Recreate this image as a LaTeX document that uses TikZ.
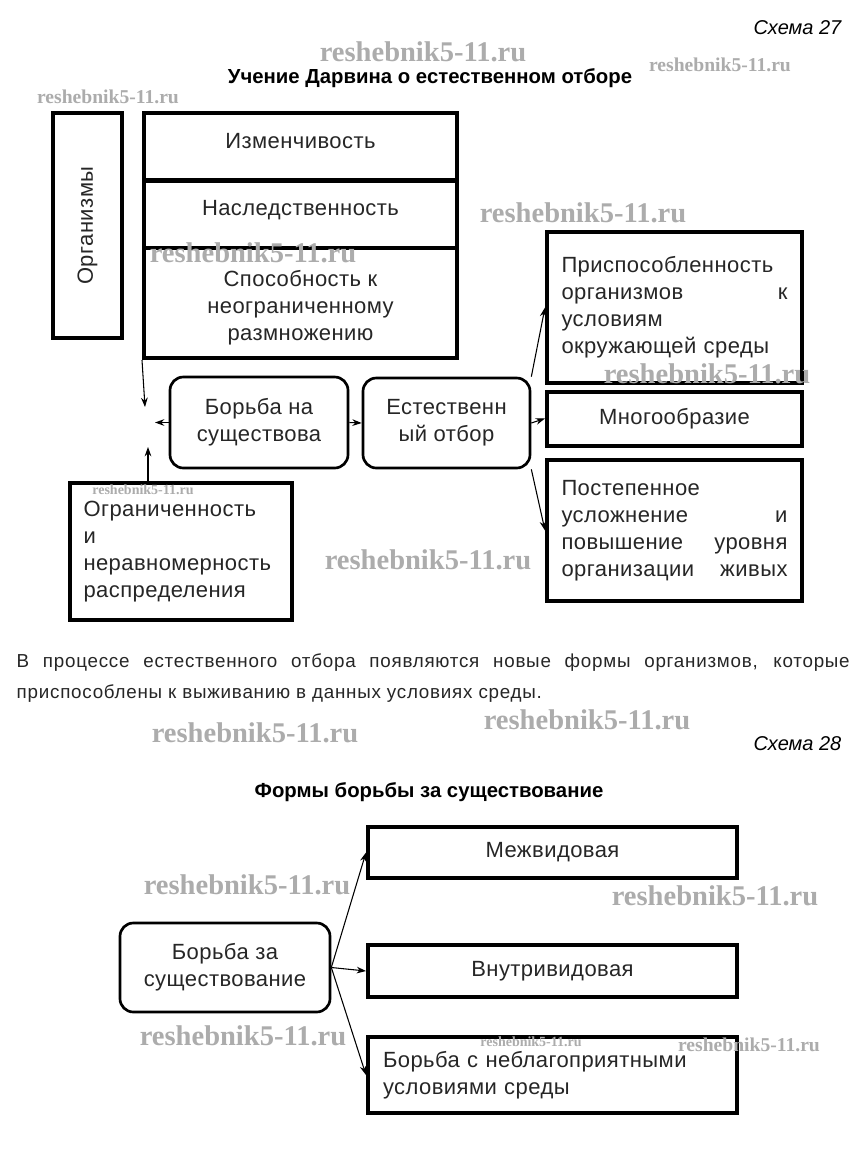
\documentclass[tikz,border=0pt]{standalone}
\usepackage{fontspec}
\setmainfont{Liberation Sans}
\newfontfamily\boxfont[LetterSpace=2]{Liberation Sans}
\newfontfamily\parafont[LetterSpace=4]{Liberation Sans}
\newfontfamily\wmfont{Liberation Serif}
\usetikzlibrary{arrows.meta}

\newcommand*{\pxu}{0.75pt}

\begin{document}
\begin{tikzpicture}
[
	x=\pxu,y=-\pxu,
	>={Stealth[length=7pt,width=5pt]},
	box/.style={draw,line width=3pt,inner sep=0pt,text=black!85,
		font=\boxfont\fontsize{16.5}{20.25}\selectfont},
	jbox/.style={box,align=left},
	rbox/.style={box,line width=2pt,rounded corners=10pt,align=center},
	conn/.style={->,line width=0.8pt},
	heading/.style={font=\bfseries\fontsize{15.25}{18}\selectfont},
	scheme/.style={anchor=east,font=\itshape\fontsize{15}{18}\selectfont},
	wm/.style={text=gray!65,font=\wmfont\bfseries\fontsize{21.4}{21.4}\selectfont},
	wmsm/.style={wm,font=\wmfont\bfseries\fontsize{14.7}{14.7}\selectfont},
	wmxs/.style={wm,font=\wmfont\bfseries\fontsize{10.5}{10.5}\selectfont}
]

	\useasboundingbox[fill=white] (0,0) rectangle (860,1154);

	% scheme 27
	\node[scheme] (s27) at (846,28) {Схема 27};
	\node[heading] (t27) at (430,78) {Учение Дарвина о естественном отборе};

	\node[box,rotate=90,minimum width=225*\pxu,minimum height=69*\pxu] (org) at (87.5,225.5) {Организмы};

	\node[box,text depth=9pt,minimum width=313*\pxu,minimum height=68*\pxu] (izm) at (300.5,146.5) {Изменчивость};
	\node[box,text depth=9pt,minimum width=313*\pxu,minimum height=68*\pxu] (nasl) at (300.5,214) {Наследственность};
	\node[box,align=center,minimum width=313*\pxu,minimum height=110*\pxu] (spos) at (300.5,303)
		{\rule{0pt}{19pt}Способность к\\неограниченному\\размножению};

	\node[rbox,minimum width=178*\pxu,minimum height=91*\pxu] (borba) at (259,422.5) {Борьба на\\существова};
	\node[rbox,minimum width=167*\pxu,minimum height=90*\pxu] (otbor) at (446.5,423) {Естественн\\ый отбор};

	\node[jbox,text width=226*\pxu,inner xsep=14.5*\pxu,minimum height=151*\pxu] (prisp) at (674.5,307.5)
		{Приспособленность\\организмов\hfill к\\условиям\\окружающей среды};
	\node[box,minimum width=255*\pxu,minimum height=54*\pxu] (mnogo) at (674.5,418.5) {Многообразие};
	\node[jbox,text width=226*\pxu,inner xsep=14.5*\pxu,minimum height=141*\pxu] (post) at (674.5,530.5)
		{Постепенное\\усложнение\hfill и\\повышение\hfill уровня\\организации\hfill живых};

	\node[jbox,text width=195*\pxu,inner xsep=13.5*\pxu,minimum height=137*\pxu] (ogr) at (181,551.5)
		{Ограниченность\\и\\неравномерность\\распределения};

	\coordinate (dn) at (145,407);
	\coordinate (lf) at (155,422.5);
	\coordinate (up) at (148,447);

	\draw[conn] (spos.south west) -- (dn);
	\draw[conn] (borba.west) -- (lf);
	\draw[conn] (ogr.north -| up) -- (up);
	\draw[conn] (borba.east) -- (otbor.west);
	\draw[conn] (otbor.north east) -- (prisp.west);
	\draw[conn] (otbor.east) -- (mnogo.west);
	\draw[conn] (otbor.south east) -- (post.west);

	\node[anchor=west,text width=833*\pxu,align=justify,text=black!85,
		font=\parafont\fontsize{14.1}{23.25}\selectfont] (txt) at (12,678)
		{В процессе естественного отбора появляются новые формы организмов, которые\linebreak
		приспособлены к выживанию в данных условиях среды.};

	% scheme 28
	\node[scheme] (s28) at (846,744) {Схема 28};
	\node[heading] (t28) at (429,792) {Формы борьбы за существование};

	\node[rbox,minimum width=210*\pxu,minimum height=89*\pxu] (borbaza) at (225,967.5) {Борьба за\\существование};
	\node[box,minimum width=369*\pxu,minimum height=51*\pxu] (mezh) at (552.5,852.5) {Межвидовая};
	\node[box,minimum width=369*\pxu,minimum height=52*\pxu] (vnutr) at (552.5,971) {Внутривидовая};
	\node[jbox,text width=339*\pxu,inner xsep=15*\pxu,minimum height=76*\pxu] (nebl) at (552.5,1075)
		{Борьба с неблагоприятными\\условиями среды};

	\draw[conn] (borbaza.east) -- (mezh.west);
	\draw[conn] (borbaza.east) -- (vnutr.west);
	\draw[conn] (borbaza.east) -- (nebl.west);

	% watermarks
	\node[wm] (w1) at (423,52) {reshebnik5-11.ru};
	\node[wmsm] (w2) at (720,65) {reshebnik5-11.ru};
	\node[wmsm] (w3) at (108,97) {reshebnik5-11.ru};
	\node[wm] (w4) at (583,213) {reshebnik5-11.ru};
	\node[wm] (w5) at (253,253) {reshebnik5-11.ru};
	\node[wm] (w6) at (707,374) {reshebnik5-11.ru};
	\node[wmxs] (w7) at (143,490) {reshebnik5-11.ru};
	\node[wm] (w8) at (428,560) {reshebnik5-11.ru};
	\node[wm] (w9) at (587,720) {reshebnik5-11.ru};
	\node[wm] (w10) at (255,733) {reshebnik5-11.ru};
	\node[wm] (w11) at (247,885) {reshebnik5-11.ru};
	\node[wm] (w12) at (715,896) {reshebnik5-11.ru};
	\node[wm] (w13) at (243,1036) {reshebnik5-11.ru};
	\node[wmxs] (w14) at (531,1042) {reshebnik5-11.ru};
	\node[wmsm] (w15) at (749,1045) {reshebnik5-11.ru};

\end{tikzpicture}
\end{document}
